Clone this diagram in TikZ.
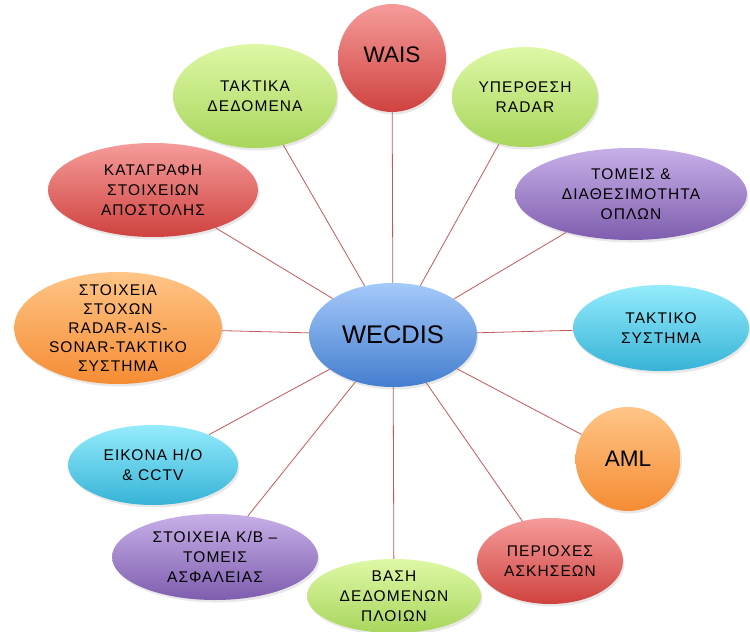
\documentclass[tikz,border=0pt]{standalone}
\usepackage{fontspec}
\setmainfont{Liberation Sans}
\newfontfamily\gk{Liberation Sans}[LetterSpace=7]
\usetikzlibrary{shapes.geometric,shadows}
\definecolor{redT}{HTML}{F59C9A}\definecolor{redB}{HTML}{CF423F}
\definecolor{grnT}{HTML}{DEF8A6}\definecolor{grnB}{HTML}{A8D65C}
\definecolor{purT}{HTML}{C7B0E8}\definecolor{purB}{HTML}{7E5DAE}
\definecolor{orgT}{HTML}{FFC587}\definecolor{orgB}{HTML}{F58C33}
\definecolor{cyaT}{HTML}{95ECFC}\definecolor{cyaB}{HTML}{36B3D7}
\definecolor{bluT}{HTML}{A5C9FA}\definecolor{bluB}{HTML}{447ECF}
\definecolor{linkc}{HTML}{C4585A}
\tikzset{
  bubble/.style={ellipse,draw=none,inner sep=0pt,
    drop shadow={opacity=0.18,shadow xshift=1.5pt,shadow yshift=-2.5pt}},
  red/.style={bubble,top color=redT,bottom color=redB},
  grn/.style={bubble,top color=grnT,bottom color=grnB},
  pur/.style={bubble,top color=purT,bottom color=purB},
  org/.style={bubble,top color=orgT,bottom color=orgB},
  cya/.style={bubble,top color=cyaT,bottom color=cyaB},
  blu/.style={bubble,top color=bluT,bottom color=bluB},
  txt/.style={align=center,font=\gk\fontsize{15.5}{20}\selectfont,text=black,inner sep=0pt},
  big/.style={align=center,font=\fontsize{22.5}{26}\selectfont,text=black,inner sep=0pt},
  link/.style={draw=linkc,line width=0.8pt}
}
\begin{document}
\begin{tikzpicture}[x=1pt,y=-1pt]
\useasboundingbox (0,0) rectangle (750,632);
% shapes
\node[blu,minimum width=168pt,minimum height=104pt] (c) at (393,335) {};
\node[red,minimum width=108pt,minimum height=108pt] (wais) at (392,58) {};
\node[grn,minimum width=164pt,minimum height=104pt] (takt) at (255,96) {};
\node[grn,minimum width=146pt,minimum height=100pt] (yper) at (525,97) {};
\node[red,minimum width=210pt,minimum height=94pt] (kat) at (153,190) {};
\node[pur,minimum width=232pt,minimum height=92pt] (tom) at (631,194) {};
\node[org,minimum width=208pt,minimum height=112pt] (stox) at (118,328) {};
\node[cya,minimum width=176pt,minimum height=86pt] (taks) at (661,328) {};
\node[org,minimum width=105pt,minimum height=104pt] (aml) at (628,459) {};
\node[cya,minimum width=170pt,minimum height=80pt] (eik) at (153,465) {};
\node[pur,minimum width=206pt,minimum height=86pt] (kb) at (215,557) {};
\node[grn,minimum width=174pt,minimum height=74pt] (vas) at (394,596) {};
\node[red,minimum width=146pt,minimum height=86pt] (per) at (550,561) {};
% connectors
\foreach \n in {wais,takt,yper,kat,tom,stox,taks,aml,eik,kb,vas,per}
  \draw[link] (c) -- (\n);
% texts
\node[big,font=\fontsize{25.5}{30}\selectfont] (c-t) at (c) {WECDIS};
\node[big] (wais-t) at (392,55) {WAIS};
\node[txt] (takt-t) at (takt) {ΤΑΚΤΙΚΑ\\ΔΕΔΟΜΕΝΑ};
\node[txt] (yper-t) at (yper) {ΥΠΕΡΘΕΣΗ\\RADAR};
\node[txt] (kat-t) at (kat) {ΚΑΤΑΓΡΑΦΗ\\ΣΤΟΙΧΕΙΩΝ\\ΑΠΟΣΤΟΛΗΣ};
\node[txt] (tom-t) at (tom) {ΤΟΜΕΙΣ \&\\ΔΙΑΘΕΣΙΜΟΤΗΤΑ\\ΟΠΛΩΝ};
\node[txt,font=\gk\fontsize{15.5}{18.8}\selectfont] (stox-t) at (stox) {ΣΤΟΙΧΕΙΑ\\ΣΤΟΧΩΝ\\RADAR-AIS-\\SONAR-ΤΑΚΤΙΚΟ\\ΣΥΣΤΗΜΑ};
\node[txt] (taks-t) at (taks) {ΤΑΚΤΙΚΟ\\ΣΥΣΤΗΜΑ};
\node[big] (aml-t) at (aml) {AML};
\node[txt] (eik-t) at (eik) {ΕΙΚΟΝΑ Η/Ο\\\& CCTV};
\node[txt] (kb-t) at (kb) {ΣΤΟΙΧΕΙΑ Κ/Β –\\ΤΟΜΕΙΣ\\ΑΣΦΑΛΕΙΑΣ};
\node[txt] (vas-t) at (vas) {ΒΑΣΗ\\ΔΕΔΟΜΕΝΩΝ\\ΠΛΟΙΩΝ};
\node[txt] (per-t) at (per) {ΠΕΡΙΟΧΕΣ\\ΑΣΚΗΣΕΩΝ};
\end{tikzpicture}
\end{document}
